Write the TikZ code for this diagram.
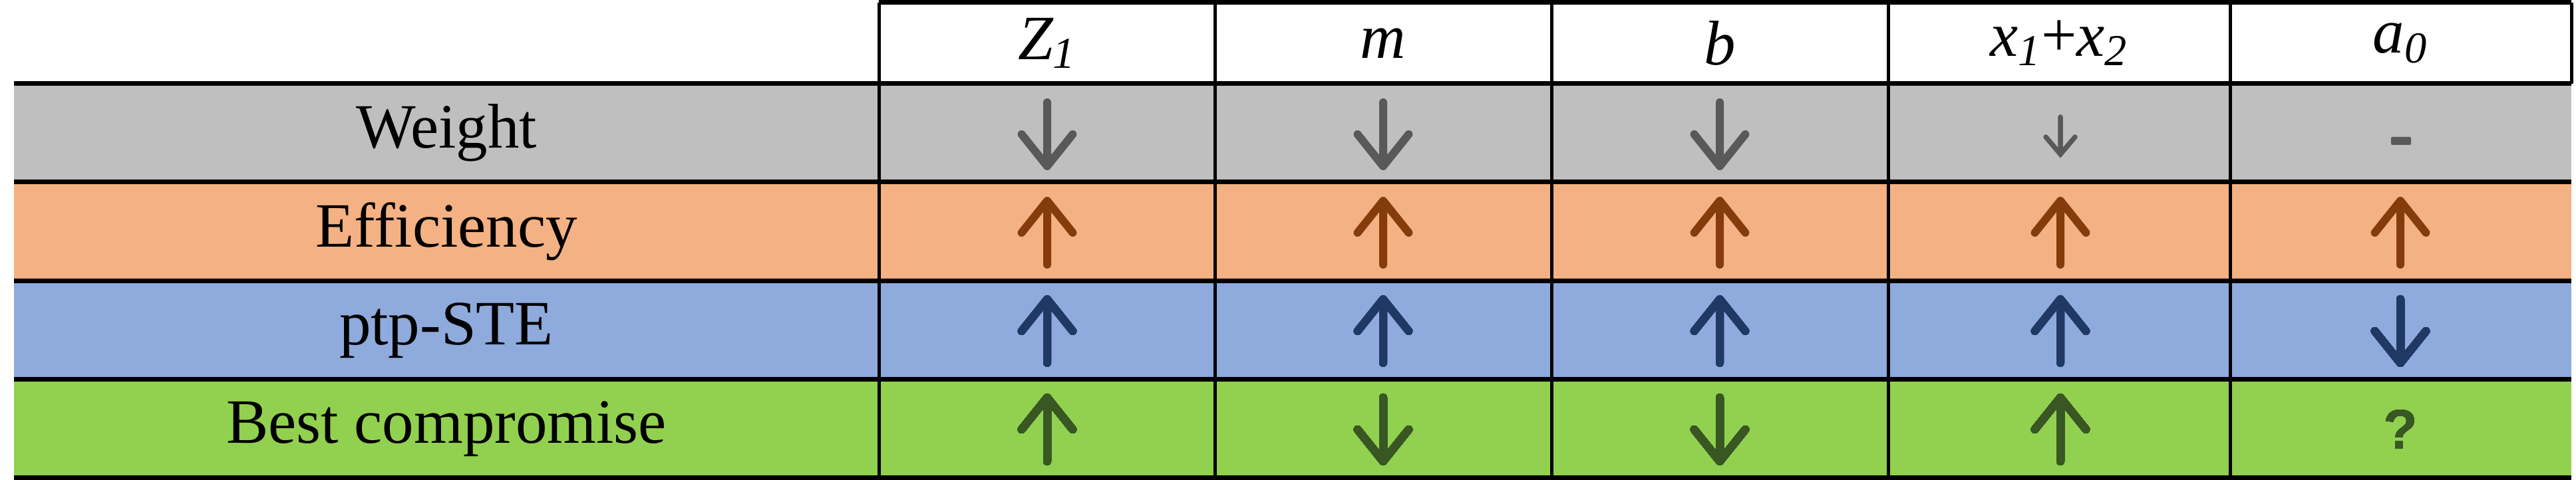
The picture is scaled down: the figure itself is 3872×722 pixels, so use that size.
\documentclass[tikz,border=0pt]{standalone}
\usepackage{fontspec}
\setmainfont{Liberation Serif}
\newfontfamily\qfont{Liberation Sans}
\begin{document}
\begin{tikzpicture}[x=0.01cm,y=-0.01cm,
  lbl/.style={font=\fontsize{27}{32}\selectfont, inner sep=0},
  hl/.style={line width=0.07cm},
  vl/.style={line width=0.05cm},
  arr/.style={line width=0.12cm, line cap=round, line join=round}]
\useasboundingbox (0,0) rectangle (3872,722);
\definecolor{cgrey}{HTML}{BFBFBF}\definecolor{agrey}{HTML}{595959}
\definecolor{corange}{HTML}{F4B183}\definecolor{aorange}{HTML}{843C0C}
\definecolor{cblue}{HTML}{8FAADC}\definecolor{ablue}{HTML}{1F3864}
\definecolor{cgreen}{HTML}{92D050}\definecolor{agreen}{HTML}{385723}
% row fills
\fill[cgrey] (21,126) rectangle (3865,274);
\fill[corange] (21,274) rectangle (3865,423);
\fill[cblue] (21,423) rectangle (3865,571);
\fill[cgreen] (21,571) rectangle (3865,719);
% grid
\foreach \y in {126,274,423,571,719} \draw[hl] (21,\y) -- (3865,\y);
\draw[hl] (1321,4) -- (3865,4);
\foreach \x in {1321,1826,2332,2838,3352} \draw[vl] (\x,4) -- (\x,719);
\draw[vl] (3865,4) -- (3865,126);
% headers
\node[lbl] (h1) at (1574,65) {\textit{Z\textsubscript{1}}};
\node[lbl] (h2) at (2079,65) {\textit{m}};
\node[lbl] (h3) at (2585,65) {\textit{b}};
\node[lbl] (h4) at (3095,65) {\textit{x\textsubscript{1}}+\textit{x\textsubscript{2}}};
\node[lbl] (h5) at (3608,65) {\textit{a\textsubscript{0}}};
% row labels
\node[lbl] (r1) at (671,200) {Weight};
\node[lbl] (r2) at (671,348) {Efficiency};
\node[lbl] (r3) at (671,497) {ptp-STE};
\node[lbl] (r4) at (671,645) {Best compromise};
% arrows
\newcommand\dnarr[4]{\draw[arr,#4] (#1,#2-#3) -- (#1,#2+#3) (#1-0.8*#3,#2+#3-#3) -- (#1,#2+#3) -- (#1+0.8*#3,#2+#3-#3);}
\newcommand\uparr[4]{\draw[arr,#4] (#1,#2+#3) -- (#1,#2-#3) (#1-0.8*#3,#2-#3+#3) -- (#1,#2-#3) -- (#1+0.8*#3,#2-#3+#3);}
\foreach \x in {1574,2079,2585} \dnarr{\x}{202}{48}{agrey}
\draw[line width=0.07cm, line cap=round, agrey] (3097,176) -- (3097,232) (3075,206) -- (3097,232) -- (3119,206);
\fill[agrey, rounded corners=0.02cm] (3594,206) rectangle (3624,218);
\foreach \x in {1574,2079,2585,3097,3608} \uparr{\x}{350}{48}{aorange}
\foreach \x in {1574,2079,2585,3097} \uparr{\x}{498}{48}{ablue}
\dnarr{3608}{498}{48}{ablue}
\uparr{1574}{646}{48}{agreen}
\dnarr{2079}{646}{48}{agreen}
\dnarr{2585}{646}{48}{agreen}
\uparr{3097}{646}{48}{agreen}
\node[inner sep=0, text=agreen, font=\qfont\bfseries\fontsize{24}{28}\selectfont] (q) at (3608,646) {?};
\end{tikzpicture}
\end{document}
